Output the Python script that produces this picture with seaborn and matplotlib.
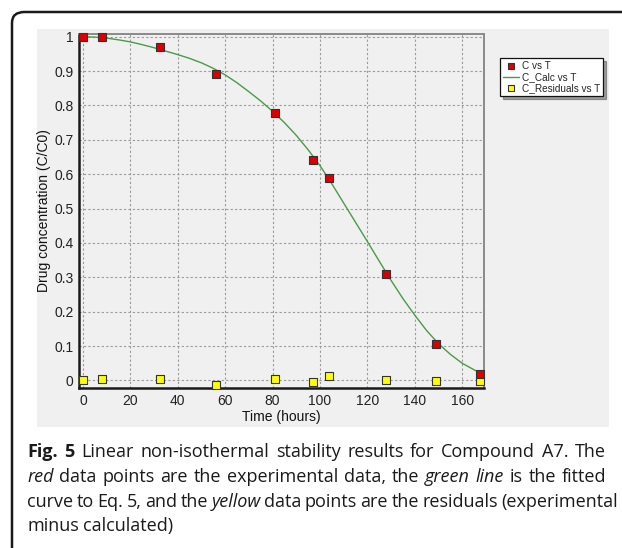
import numpy as np
import pandas as pd
import matplotlib
matplotlib.use("Agg")
import matplotlib.pyplot as plt
import seaborn as sns
from matplotlib.patches import FancyBboxPatch, Rectangle
from matplotlib.ticker import MultipleLocator, FuncFormatter
from matplotlib.lines import Line2D

# ---------------- data ----------------
t_exp = [0, 8.2, 32.3, 56.2, 81.1, 97.2, 103.9, 127.8, 149.1, 167.5]
c_exp = [1.000, 1.000, 0.969, 0.892, 0.779, 0.642, 0.588, 0.309, 0.106, 0.020]
c_resid = [0.000, 0.004, 0.004, -0.0125, 0.004, -0.004, 0.012, 0.000, -0.002, -0.002]

t_calc = [0, 5, 10, 15, 20, 25, 30, 35, 40, 45, 50, 55, 60, 65, 70, 75, 80, 85,
          90, 95, 100, 105, 110, 115, 120, 125, 130, 135, 140, 145, 150, 155,
          160, 165, 168]
c_calc = [1.000, 0.999, 0.996, 0.991, 0.985, 0.977, 0.968, 0.958, 0.948, 0.937,
          0.924, 0.908, 0.889, 0.866, 0.840, 0.813, 0.783, 0.750, 0.713, 0.671,
          0.625, 0.572, 0.516, 0.460, 0.404, 0.347, 0.291, 0.238, 0.190, 0.145,
          0.107, 0.076, 0.050, 0.031, 0.020]

x_ticks = [0, 20, 40, 60, 80, 100, 120, 140, 160]
y_ticks = [0, 0.1, 0.2, 0.3, 0.4, 0.5, 0.6, 0.7, 0.8, 0.9, 1.0]
legend_labels = ["C vs T", "C_Calc vs T", "C_Residuals vs T"]
x_label = "Time (hours)"
y_label = "Drug concentration (C/C0)"

caption_lines = [
    [("Fig. 5", "bold"), (" Linear non-isothermal stability results for Compound A7. The", "normal")],
    [("red", "italic"), (" data points are the experimental data, the ", "normal"),
     ("green line", "italic"), (" is the fitted", "normal")],
    [("curve to Eq. 5, and the ", "normal"), ("yellow", "italic"),
     (" data points are the residuals (experimental", "normal")],
    [("minus calculated)", "normal")],
]

# ---------------- style ----------------
sns.set_style("white")
plt.rcParams["font.family"] = ["Liberation Sans", "DejaVu Sans"]

W, H = 622, 548
fig = plt.figure(figsize=(W / 100, H / 100), dpi=100)
fig.patch.set_facecolor("white")

def fx(px):
    return px / W

def fy(py):
    return 1 - py / H

# outer rounded frame (clipped on right/bottom)
frame = FancyBboxPatch((fx(12), fy(700)), fx(700), fy(12) - fy(700),
                       boxstyle="round,pad=0,rounding_size=0.02",
                       transform=fig.transFigure, facecolor="none",
                       edgecolor="#1a1a1a", linewidth=1.8, zorder=-10)
fig.patches.append(frame)

# gray chart panel
panel = Rectangle((fx(37), fy(427)), fx(609) - fx(37), fy(29) - fy(427),
                  transform=fig.transFigure, facecolor="#f0f0f0",
                  edgecolor="none", zorder=-10)
fig.patches.append(panel)

ax = fig.add_axes([fx(79), fy(388), fx(484) - fx(79), fy(34) - fy(388)])
ax.set_facecolor("#f0f0f0")

df_exp = pd.DataFrame({"T": t_exp, "C": c_exp, "R": c_resid})
df_calc = pd.DataFrame({"T": t_calc, "C": c_calc})

sns.lineplot(data=df_calc, x="T", y="C", ax=ax, color="#4a9a4a",
             linewidth=1.0, zorder=3)
sns.scatterplot(data=df_exp, x="T", y="R", ax=ax, marker="s", s=28,
                color="#ffff00", edgecolor="#333333", linewidth=0.8,
                zorder=4, clip_on=False)
sns.scatterplot(data=df_exp, x="T", y="C", ax=ax, marker="s", s=28,
                color="#dd0000", edgecolor="#333333", linewidth=0.8,
                zorder=5, clip_on=False)

ax.set_xlim(-1.7, 169.2)
ax.set_ylim(-0.022, 1.008)
ax.set_xticks(x_ticks)
ax.set_yticks(y_ticks)
ax.xaxis.set_minor_locator(MultipleLocator(4))
ax.yaxis.set_major_formatter(FuncFormatter(lambda v, p: f"{v:g}"))
ax.grid(True, which="major", color="#9a9a9a", linestyle=(0, (2, 2)),
        linewidth=0.8)
ax.set_axisbelow(True)
ax.tick_params(axis="both", which="major", direction="in", length=3,
               width=0.8, labelsize=10, colors="#222222", pad=4)
ax.tick_params(axis="x", which="minor", direction="in", length=2,
               width=0.8, colors="#222222")
ax.set_xlabel(x_label, fontsize=10, color="#111111", labelpad=2)
ax.set_ylabel(y_label, fontsize=10, color="#111111", labelpad=2)

for s in ["left", "bottom"]:
    ax.spines[s].set_color("#1a1a1a")
    ax.spines[s].set_linewidth(1.8)
for s in ["top", "right"]:
    ax.spines[s].set_color("#8a8a8a")
    ax.spines[s].set_linewidth(1.4)

handles = [
    Line2D([], [], marker="s", linestyle="none", markersize=4.5,
           markerfacecolor="#dd0000", markeredgecolor="#333333", markeredgewidth=0.8),
    Line2D([], [], color="#4a9a4a", linewidth=1.0),
    Line2D([], [], marker="s", linestyle="none", markersize=4.5,
           markerfacecolor="#ffff00", markeredgecolor="#333333", markeredgewidth=0.8),
]
leg = fig.legend(handles, legend_labels, loc="upper left",
                 bbox_to_anchor=(fx(500), fy(58)), fontsize=7.2,
                 frameon=True, fancybox=False, shadow=True,
                 handlelength=1.6, handletextpad=0.3, labelspacing=0.12,
                 borderpad=0.3, borderaxespad=0)
leg.get_frame().set_edgecolor("#111111")
leg.get_frame().set_linewidth(0.9)
leg.get_frame().set_facecolor("white")

# ---------------- caption (justified lines) ----------------
cap_font = ["Open Sans", "DejaVu Sans"]
cap_size = 13.0
fig.canvas.draw()
renderer = fig.canvas.get_renderer()

def style_kw(style):
    kw = dict(fontsize=cap_size, family=cap_font)
    if style == "bold":
        kw["fontweight"] = "bold"
    elif style == "italic":
        kw["fontstyle"] = "italic"
    return kw

def text_width(s, style):
    kw = style_kw(style)
    t1 = fig.text(0, 0, "X" + s + "X", **kw)
    t2 = fig.text(0, 0, "XX", **kw)
    w = t1.get_window_extent(renderer).width - t2.get_window_extent(renderer).width
    t1.remove(); t2.remove()
    return w

baselines = [457, 482, 507, 531]
line_ends = [606, 606, 618, None]
x0 = 27
natural_space = text_width(" ", "normal")
for line, yb, xend in zip(caption_lines, baselines, line_ends):
    items = []  # (word, style, space_before)
    pending_space = False
    for s, style in line:
        parts = s.split(" ")
        for i, p in enumerate(parts):
            if i > 0:
                pending_space = True
            if p:
                items.append((p, style, pending_space))
                pending_space = False
    widths = [text_width(w, st) for w, st, _ in items]
    n_sp = sum(1 for _, _, sp in items if sp)
    if xend is not None and n_sp:
        space = (xend - x0 - sum(widths)) / n_sp
    else:
        space = natural_space
    xpx = x0
    for (w, st, sp), wd in zip(items, widths):
        if sp:
            xpx += space
        fig.text(fx(xpx), fy(yb), w, color="#1a1a1a", va="baseline",
                 ha="left", **style_kw(st))
        xpx += wd

fig.savefig("out.png", dpi=100)
